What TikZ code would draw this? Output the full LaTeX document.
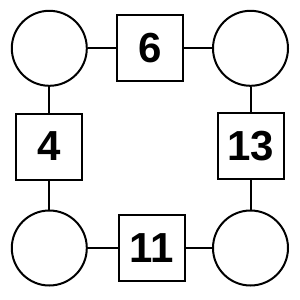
\documentclass[tikz,border=0pt]{standalone}
\usepackage{fontspec}
\setmainfont{Liberation Sans}
\usepackage{tikz}
\usetikzlibrary{positioning}
\tikzset{
  ringnode/.style={draw, circle, line width=2pt, minimum size=75pt, inner sep=0pt},
  numbox/.style={draw, line width=2pt, minimum size=66pt, inner sep=0pt,
    font=\fontsize{42}{42}\selectfont\bfseries},
  link/.style={line width=2pt}
}
\begin{document}
\begin{tikzpicture}[x=1pt, y=-1pt]
        \useasboundingbox (0,0) rectangle (300,300);
        \node[ringnode] (tl) at (49.3,48.3) {};
        \node[ringnode] (tr) at (250.5,48.3) {};
        \node[ringnode] (bl) at (49.3,248) {};
        \node[ringnode] (br) at (250.5,248) {};
        \node[numbox] (top) at (150,48.3) {6};
        \node[numbox] (left) at (49.3,146.5) {4};
        \node[numbox] (right) at (250.5,146) {13};
        \node[numbox] (bottom) at (151.5,248) {11};
        \draw[link] (tl) -- (top);
        \draw[link] (top) -- (tr);
        \draw[link] (tl) -- (left);
        \draw[link] (left) -- (bl);
        \draw[link] (tr) -- (right);
        \draw[link] (right) -- (br);
        \draw[link] (bl) -- (bottom);
        \draw[link] (bottom) -- (br);
      \end{tikzpicture}
\end{document}
